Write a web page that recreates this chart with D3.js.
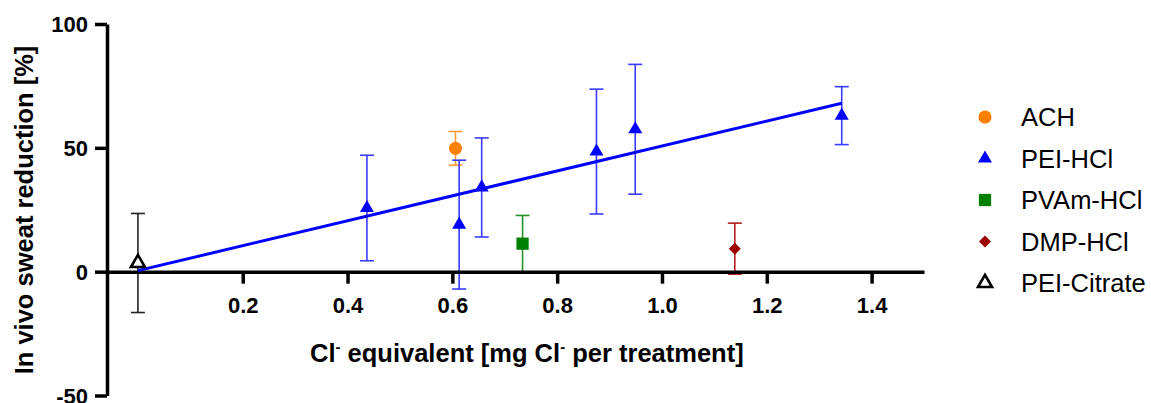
<!DOCTYPE html>
<html lang="en">
<head>
    <meta charset="UTF-8">
    <title>sweat reduction vs Cl equivalent</title>
    <script src="https://cdn.jsdelivr.net/npm/d3@7"></script>
    <style>
        body { margin: 0; background: #fff; }
        svg { display: block; font-family: "Liberation Sans", Arial, sans-serif; }
    </style>
</head>
<body>
<svg width="1151" height="403" id="my-svg"></svg>
<script>
    // data: x = mg Cl- per treatment, y = mean %, err = error bar half length
    const seriesNames = ["ACH", "PEI-HCl", "PVAm-HCl", "DMP-HCl", "PEI-Citrate"];

    const achX = [0.606];
    const achY = [49.8];
    const achErr = [6.8];

    const peiX = [0.437, 0.613, 0.656, 0.875, 0.949, 1.343];
    const peiY = [25.7, 19.0, 34.0, 48.5, 57.5, 63.0];
    const peiErr = [21.3, 26.0, 20.0, 25.2, 26.2, 11.7];

    const pvamX = [0.734];
    const pvamY = [11.3];
    const pvamErr = [11.4];

    const dmpX = [1.139];
    const dmpY = [9.3];
    const dmpErr = [10.3];

    const citX = [0.0];
    const citY = [3.5];
    const citErr = [20.0];

    const xTicks = [0.2, 0.4, 0.6, 0.8, 1.0, 1.2, 1.4];
    const yTicks = [-50, 0, 50, 100];

    const svg = d3.select("#my-svg");

    const x = d3.scaleLinear().domain([-0.059, 1.5]).range([107, 924]);
    const y = d3.scaleLinear().domain([-50, 100]).range([395.5, 24]);

    const series = [
        {name: seriesNames[0], xs: achX, ys: achY, es: achErr, color: "#ff8000", bar: "#ff9a33", shape: d3.symbolCircle, size: 135},
        {name: seriesNames[1], xs: peiX, ys: peiY, es: peiErr, color: "#0000ff", bar: "#3a3aff", shape: d3.symbolTriangle, size: 85},
        {name: seriesNames[2], xs: pvamX, ys: pvamY, es: pvamErr, color: "#008000", bar: "#2a902a", shape: d3.symbolSquare, size: 150},
        {name: seriesNames[3], xs: dmpX, ys: dmpY, es: dmpErr, color: "#9b0000", bar: "#b52020", shape: d3.symbolSquare, size: 72, rotate: 45},
        {name: seriesNames[4], xs: citX, ys: citY, es: citErr, color: "#000000", bar: "#222222", shape: d3.symbolTriangle, size: 85, open: true}
    ];

    // error bars
    const capW = 7;
    series.forEach(s => {
        const g = svg.append("g")
            .attr("stroke", s.bar)
            .attr("stroke-width", 1.6)
            .attr("fill", "none");
        s.xs.forEach((xv, i) => {
            const top = y(s.ys[i] + s.es[i]);
            const bot = y(s.ys[i] - s.es[i]);
            const cx = x(xv);
            g.append("line").attr("x1", cx).attr("x2", cx).attr("y1", top).attr("y2", bot);
            g.append("line").attr("x1", cx - capW).attr("x2", cx + capW).attr("y1", top).attr("y2", top);
            g.append("line").attr("x1", cx - capW).attr("x2", cx + capW).attr("y1", bot).attr("y2", bot);
        });
    });

    // axes (plain hyphen for negatives, like the original)
    const yAxis = svg.append("g")
        .attr("transform", `translate(${x.range()[0]},0)`)
        .call(d3.axisLeft(y).tickValues(yTicks).tickFormat(d => String(d))
            .tickSizeInner(12).tickSizeOuter(0).tickPadding(7));
    const xAxis = svg.append("g")
        .attr("transform", `translate(0,${y(0)})`)
        .call(d3.axisBottom(x).tickValues(xTicks).tickFormat(d3.format(".1f"))
            .tickSizeInner(12).tickSizeOuter(0).tickPadding(14));

    [xAxis, yAxis].forEach(a => {
        a.attr("font-size", 22).attr("font-weight", "bold").attr("font-family", "'Liberation Sans', Arial, sans-serif");
        a.select(".domain").attr("stroke", "#000").attr("stroke-width", 3.5);
        a.selectAll(".tick line").attr("stroke", "#000").attr("stroke-width", 3.5);
        a.selectAll(".tick text").attr("fill", "#000");
    });
    yAxis.selectAll(".tick text").attr("dy", "0.36em");

    // linear fit through the PEI-HCl points
    const mx = d3.mean(peiX), my = d3.mean(peiY);
    const slope = d3.sum(peiX, (v, i) => (v - mx) * (peiY[i] - my)) / d3.sum(peiX, v => (v - mx) * (v - mx));
    const icpt = my - slope * mx;
    const fitX = [0, d3.max(peiX)];
    svg.append("path")
        .attr("d", d3.line().x(d => x(d)).y(d => y(icpt + slope * d))(fitX))
        .attr("fill", "none")
        .attr("stroke", "#0000ff")
        .attr("stroke-width", 3);

    // markers
    function drawMarker(g, s, px, py) {
        g.append("path")
            .attr("d", d3.symbol().type(s.shape).size(s.size)())
            .attr("transform", `translate(${px},${py})` + (s.rotate ? ` rotate(${s.rotate})` : ""))
            .attr("fill", s.open ? "#fff" : s.color)
            .attr("stroke", s.open ? s.color : "none")
            .attr("stroke-width", s.open ? 2.6 : 0);
    }
    series.forEach(s => {
        const g = svg.append("g");
        s.xs.forEach((xv, i) => drawMarker(g, s, x(xv), y(s.ys[i])));
    });

    // axis titles
    svg.append("text")
        .attr("transform", "translate(33,210) rotate(-90)")
        .attr("text-anchor", "middle")
        .style("font-size", "25.5px")
        .style("font-weight", "bold")
        .text("In vivo sweat reduction [%]");

    const xt = svg.append("text")
        .attr("x", 310)
        .attr("y", 362)
        .style("font-size", "25.5px")
        .style("font-weight", "bold");
    xt.append("tspan").text("Cl");
    xt.append("tspan").attr("dy", -10).style("font-size", "15px").text("-");
    xt.append("tspan").attr("dy", 10).text(" equivalent [mg Cl");
    xt.append("tspan").attr("dy", -10).style("font-size", "15px").text("-");
    xt.append("tspan").attr("dy", 10).text(" per treatment]");

    // legend
    const legend = svg.append("g");
    series.forEach((s, i) => {
        const ly = 117 + i * 41.5;
        drawMarker(legend, s, 985, ly);
        legend.append("text")
            .attr("x", 1021)
            .attr("y", ly)
            .attr("dy", "0.36em")
            .style("font-size", "25.5px")
            .text(s.name);
    });
</script>
</body>
</html>
